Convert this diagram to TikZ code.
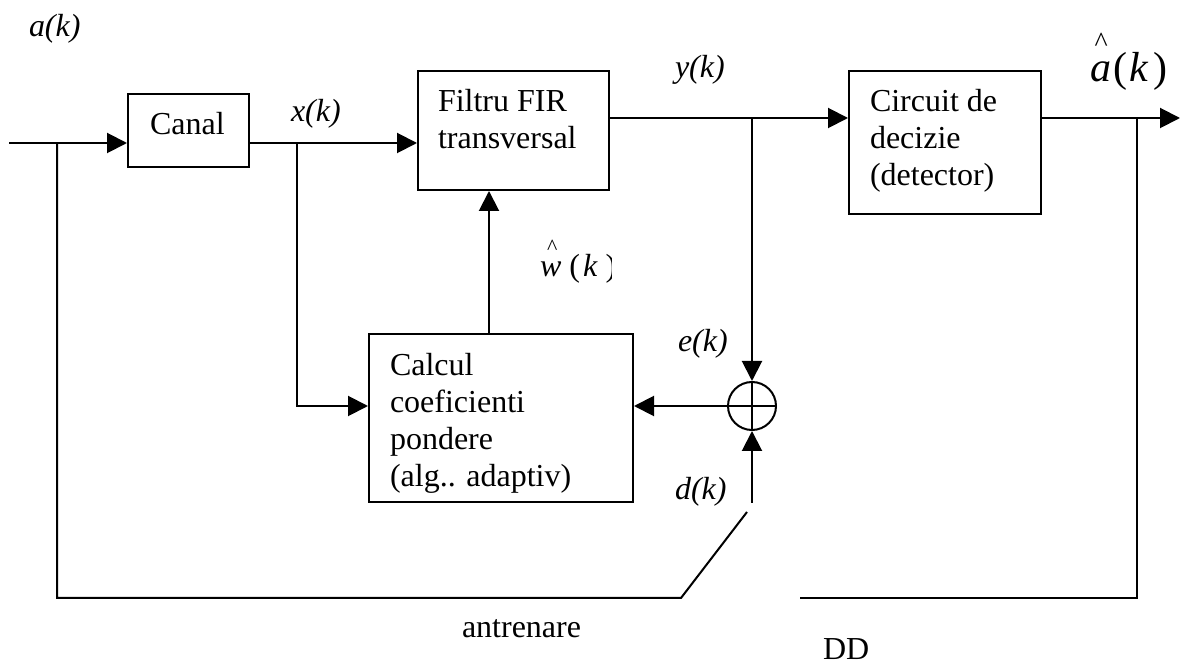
\documentclass[tikz,border=0pt]{standalone}
\usepackage{fontspec}
\setmainfont{Liberation Serif}
\usetikzlibrary{arrows.meta}
\begin{document}
\begin{tikzpicture}[x=0.5pt,y=-0.5pt,
  line width=1pt,
  blk/.style={draw, rectangle, inner sep=0pt, line width=1pt},
  txt/.style={inner sep=0pt, font=\fontsize{16}{18.4}\selectfont, align=left},
  sig/.style={inner sep=0pt, font=\fontsize{16}{18.4}\selectfont\itshape},
  arr/.style={-{Triangle[length=10pt,width=10pt]}},
  summer/.style={draw, circle, minimum size=24pt, inner sep=0pt, line width=1pt}]
\useasboundingbox (0,0) rectangle (1180,663);

% blocks
\node[blk, minimum width=60.5pt, minimum height=36.5pt] (canal) at (188.5,130.5) {};
\node[blk, minimum width=95.5pt, minimum height=59.5pt] (filt) at (513.5,130.5) {};
\node[blk, minimum width=96pt, minimum height=71.5pt] (det) at (945,142.5) {};
\node[blk, minimum width=132pt, minimum height=84pt] (calc) at (501,418) {};
\node[summer] (sum) at (752,406) {};
\draw (sum.north) -- (sum.south) (sum.west) -- (sum.east);

% block texts
\node[txt, anchor=base west] (canal-t) at (149,135) {Canal};
\node[txt, anchor=north west] (filt-t) at (437,85.2) {\strut Filtru FIR\\transversal};
\node[txt, anchor=north west] (det-t) at (869,85.2) {\strut Circuit de\\decizie\\(detector)};
\node[txt, anchor=north west] (calc-t) at (389,349.2) {\strut Calcul\\coeficienti\\pondere\\(alg.. adaptiv)};

% connection points
\coordinate (in) at (9,143);
\coordinate (j1) at (57,143);
\coordinate (jx) at (297,143);
\coordinate (wcol) at (489,0);
\coordinate (jy) at (752,118);
\coordinate (j2) at (1137,118);
\coordinate (out) at (1180,118);
\coordinate (dk) at (752,503);
\coordinate (sw) at (747,512);
\coordinate (sb) at (681,598);
\coordinate (dd) at (800,598);

% signal paths
\draw[arr] (in) -- (canal.west |- in);
\draw[arr] (canal.east |- in) -- (filt.west |- in);
\draw[arr] (jx) |- (calc.west |- sum);
\draw[arr] (calc.north -| wcol) -- (filt.south -| wcol);
\draw[arr] (filt.east |- jy) -- (det.west |- jy);
\draw[arr] (jy) -- (sum.north);
\draw[arr] (sum.west) -- (calc.east |- sum);
\draw[arr] (dk) -- (sum.south);
\draw[arr] (det.east |- j2) -- (out);
\draw (j1) |- (sb) -- (sw);
\draw (j2) |- (dd);

% signal labels
\node[sig, anchor=base west] (ak) at (28,37) {a(k)};
\node[sig, anchor=base west] (xk) at (290,122) {x(k)};
\node[sig, anchor=base west] (yk) at (674,78) {y(k)};
\node[sig, anchor=base west] (ek) at (677,352) {e(k)};
\node[sig, anchor=base west] (dkl) at (674,500) {d(k)};
\node[txt, anchor=base west] (antr) at (461,638) {antrenare};
\node[txt, anchor=base west] (ddl) at (822,660) {DD};

% estimated symbol and weights, each with its caret set above the letter
\begin{scope}
  \clip (1080,20) rectangle (1166,100);
  \node[inner sep=0pt, anchor=base west, font=\fontsize{21}{24}\selectfont] (ahat)
    at (1089,82) {\makebox[0pt][l]{\kern2.25pt\raisebox{15pt}{\fontsize{14}{16}\selectfont\textasciicircum}}%
      \textit{a}\kern1pt(\kern1.5pt\textit{k}\kern2pt)};
\end{scope}
\begin{scope}
  \clip (530,230) rectangle (611,300);
  \node[inner sep=0pt, anchor=base west, font=\fontsize{16}{18}\selectfont] (what)
    at (539,277) {\makebox[0pt][l]{\kern3.5pt\raisebox{11pt}{\fontsize{11}{13}\selectfont\textasciicircum}}%
      \textit{w}\kern4pt(\kern1.5pt\textit{k}\kern4pt)};
\end{scope}
\end{tikzpicture}
\end{document}
